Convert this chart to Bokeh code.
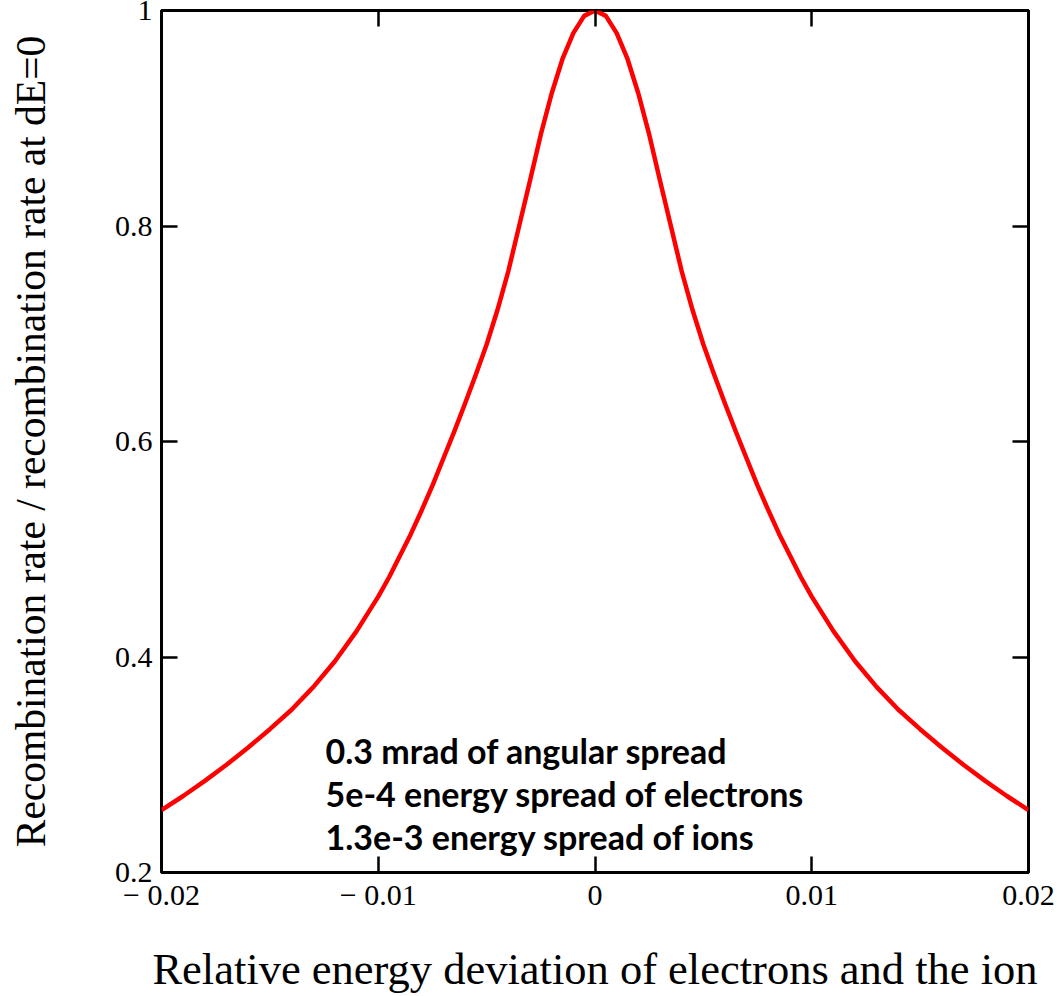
from bokeh.plotting import figure
from bokeh.models import LinearAxis, FixedTicker, Range1d, ColumnDataSource
from bokeh.core.properties import value
from bokeh.embed import file_html
from bokeh.resources import INLINE

# ---------------- data ----------------
dE = [-0.020, -0.019, -0.018, -0.017, -0.016, -0.015, -0.014, -0.013, -0.012,
      -0.011, -0.0105, -0.010, -0.0095, -0.009, -0.0085, -0.008, -0.0075,
      -0.007, -0.0065, -0.006, -0.0055, -0.005, -0.0045, -0.004,
      -0.0035, -0.003, -0.0025, -0.002, -0.0015, -0.001, -0.0005, 0.0,
      0.0005, 0.001, 0.0015, 0.002, 0.0025, 0.003, 0.0035,
      0.004, 0.0045, 0.005, 0.0055, 0.006, 0.0065, 0.007, 0.0075, 0.008,
      0.0085, 0.009, 0.0095, 0.010, 0.0105, 0.011,
      0.012, 0.013, 0.014, 0.015, 0.016, 0.017, 0.018, 0.019, 0.020]
rate = [0.258, 0.271, 0.285, 0.300, 0.316, 0.333, 0.351, 0.372, 0.396,
        0.424, 0.440, 0.456, 0.474, 0.494, 0.514, 0.536, 0.559,
        0.584, 0.609, 0.635, 0.662, 0.690, 0.722, 0.758,
        0.800, 0.842, 0.885, 0.923, 0.955, 0.979, 0.995, 1.000,
        0.995, 0.979, 0.955, 0.923, 0.885, 0.842, 0.800,
        0.758, 0.722, 0.690, 0.662, 0.635, 0.609, 0.584, 0.559, 0.536,
        0.514, 0.494, 0.474, 0.456, 0.440, 0.424,
        0.396, 0.372, 0.351, 0.333, 0.316, 0.300, 0.285, 0.271, 0.258]

x_ticks = [-0.02, -0.01, 0.0, 0.01, 0.02]
x_tick_labels = ["\u2212 0.02", "\u2212 0.01", "0", "0.01", "0.02"]
y_ticks = [0.2, 0.4, 0.6, 0.8, 1.0]
y_tick_labels = ["0.2", "0.4", "0.6", "0.8", "1"]

x_title = "Relative energy deviation of electrons and the ion"
y_title = "Recombination rate / recombination rate at dE=0"
note_lines = ["0.3 mrad of angular spread",
              "5e-4 energy spread of electrons",
              "1.3e-3 energy spread of ions"]

# ---------------- figure ----------------
SERIF = "Liberation Serif"
X0, X1, Y0, Y1 = -0.02, 0.02, 0.2, 1.0

p = figure(width=1060, height=996, x_range=Range1d(X0, X1), y_range=Range1d(Y0, Y1),
           output_backend="svg", toolbar_location=None,
           x_axis_location=None, y_axis_location=None,
           min_border_left=161, min_border_right=32, min_border_top=10,
           min_border_bottom=124)
p.grid.visible = False
p.outline_line_color = "black"
p.outline_line_width = 3
p.background_fill_color = "white"
p.border_fill_color = "white"

xtick = FixedTicker(ticks=x_ticks, minor_ticks=[])
ytick = FixedTicker(ticks=y_ticks, minor_ticks=[])


def style_ticks(axis):
    axis.axis_line_color = None
    axis.major_tick_in = 16
    axis.major_tick_out = 0
    axis.major_tick_line_width = 2.5
    axis.major_tick_line_color = "black"
    axis.minor_tick_line_color = None
    return axis


def tick_only(axis):
    style_ticks(axis)
    axis.major_label_text_font_size = "1px"
    axis.major_label_text_color = None
    axis.major_label_standoff = 0
    axis.axis_label_standoff = 0
    return axis


# bottom axis: ticks + labels + title
xb = style_ticks(LinearAxis(ticker=xtick))
xb.major_label_overrides = {t: s for t, s in zip(x_ticks, x_tick_labels)}
xb.major_label_text_font = SERIF
xb.major_label_text_font_size = "30px"
xb.major_label_text_color = "black"
xb.major_label_standoff = 5
xb.axis_label = x_title
xb.axis_label_text_font = SERIF
xb.axis_label_text_font_style = "normal"
xb.axis_label_text_font_size = "44.5px"
xb.axis_label_text_color = "black"
xb.axis_label_standoff = 30
p.add_layout(xb, "below")

# left axis: ticks + labels + title
yl = style_ticks(LinearAxis(ticker=ytick))
yl.major_label_overrides = {t: s for t, s in zip(y_ticks, y_tick_labels)}
yl.major_label_text_font = SERIF
yl.major_label_text_font_size = "30px"
yl.major_label_text_color = "black"
yl.major_label_standoff = 9
yl.axis_label = y_title
yl.axis_label_text_font = SERIF
yl.axis_label_text_font_style = "normal"
yl.axis_label_text_font_size = "41.5px"
yl.axis_label_text_color = "black"
yl.axis_label_standoff = 58
p.add_layout(yl, "left")

# mirrored ticks on top and right
p.add_layout(tick_only(LinearAxis(ticker=xtick)), "above")
p.add_layout(tick_only(LinearAxis(ticker=ytick)), "right")

# curve
src = ColumnDataSource(data=dict(x=dE, y=rate))
p.line("x", "y", source=src, line_color="#ff0000", line_width=4.5, line_join="round")

# annotation text
frame_px = 862.0
px_per_y = frame_px / (Y1 - Y0)
x_note = X0 + (325 - 161) / 867.0 * (X1 - X0)
base0 = Y0 + (872 - 750) / px_per_y
step = 43.0 / px_per_y
nsrc = ColumnDataSource(data=dict(
    x=[x_note] * len(note_lines),
    y=[base0 - i * step for i in range(len(note_lines))],
    t=note_lines))
p.text("x", "y", text="t", source=nsrc, text_font=value("Lato"),
       text_font_style="bold", text_font_size="34px", text_color="black",
       text_align="left", text_baseline="alphabetic")

open("out.html", "w").write(file_html(p, INLINE))
